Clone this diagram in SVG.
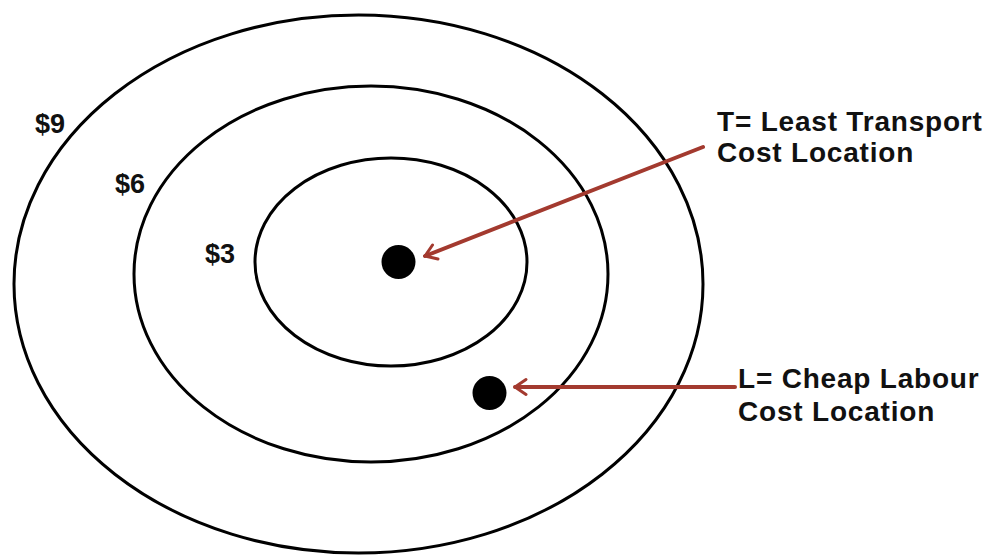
<svg xmlns="http://www.w3.org/2000/svg" width="991" height="555" viewBox="0 0 991 555">
<style>
.ring{fill:none;stroke:#000;stroke-width:3}
.dot{fill:#000}
.lbl{font-family:"Liberation Sans",Arial,sans-serif;font-weight:bold;fill:#111}
.cost{font-size:27px}
.note{font-size:28px;letter-spacing:0.8px}
.arrow{fill:none;stroke:#a33a2f;stroke-width:4;stroke-linecap:round}
</style>
<defs>
<marker id="chev" viewBox="0 0 20 20" refX="18" refY="10" markerWidth="5" markerHeight="5" orient="auto" markerUnits="strokeWidth">
<path d="M7,2.5 L18,10 L7,17.5" fill="none" stroke="#a33a2f" stroke-width="3" stroke-linecap="round" stroke-linejoin="round"/>
</marker>
</defs>
<rect width="991" height="555" fill="#fff"/>
<g id="ring9"><ellipse class="ring" cx="358.5" cy="284" rx="344.5" ry="269"/><text class="lbl cost" x="35" y="133">$9</text></g>
<g id="ring6"><ellipse class="ring" cx="371" cy="274" rx="237" ry="188"/><text class="lbl cost" x="115" y="193">$6</text></g>
<g id="ring3"><ellipse class="ring" cx="391" cy="262" rx="136" ry="104"/><text class="lbl cost" x="205" y="263">$3</text></g>
<g id="pointT"><circle class="dot" cx="398.5" cy="262" r="17"/></g>
<g id="pointL"><circle class="dot" cx="489.5" cy="393" r="17"/></g>
<g id="labelT"><text class="lbl note" x="717" y="131">T= Least Transport</text><text class="lbl note" x="717" y="162">Cost Location</text></g>
<g id="labelL"><text class="lbl note" x="738" y="388">L= Cheap Labour</text><text class="lbl note" x="738" y="421">Cost Location</text></g>
<g id="connectors">
<line class="arrow" x1="703" y1="147" x2="425" y2="256" marker-end="url(#chev)"/>
<line class="arrow" x1="735" y1="387" x2="515" y2="387" marker-end="url(#chev)"/>
</g>
</svg>
